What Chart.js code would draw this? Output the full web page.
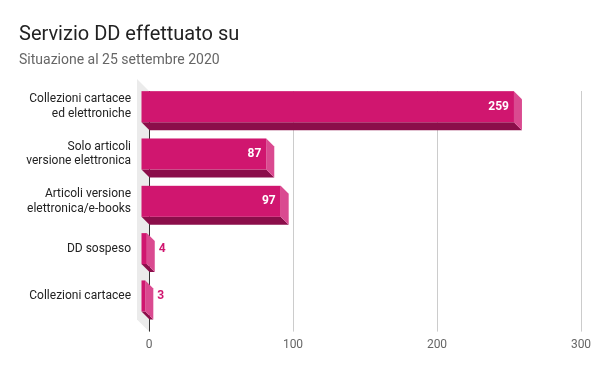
<!DOCTYPE html>
<html>
<head>
<meta charset="utf-8">
<script src="https://cdn.jsdelivr.net/npm/chart.js@4"></script>
<style>
  html, body { margin: 0; padding: 0; background: #fff; }
  #wrap { width: 600px; height: 371px; position: relative; }
</style>
</head>
<body>
<div id="wrap"><canvas id="c"></canvas></div>
<script>
const titleText = "Servizio DD effettuato su";
const subtitleText = "Situazione al 25 settembre 2020";
const categories = [
  ["Collezioni cartacee", "ed elettroniche"],
  ["Solo articoli", "versione elettronica"],
  ["Articoli versione", "elettronica/e-books"],
  "DD sospeso",
  "Collezioni cartacee"
];
const values = [259, 87, 97, 4, 3];
const xTicks = [0, 100, 200, 300];

const FRONT = "#d0166f";
const BOTTOM = "#8b0e4a";
const SIDE = "#da4a90";
const DEPTH = 8;

const bars3d = {
  id: "bars3d",
  beforeDraw(chart) {
    const { ctx, chartArea: a } = chart;
    ctx.save();
    ctx.fillStyle = "#ebebeb";
    ctx.beginPath();
    ctx.moveTo(a.left - 12, a.top - 12);
    ctx.lineTo(a.left, a.top);
    ctx.lineTo(a.left, a.bottom + 4);
    ctx.lineTo(a.left - 12, a.bottom - 8);
    ctx.closePath();
    ctx.fill();
    ctx.restore();
  },
  afterDatasetsDraw(chart) {
    const { ctx } = chart;
    const meta = chart.getDatasetMeta(0);
    ctx.save();
    meta.data.forEach((bar, i) => {
      const p = bar.getProps(["x", "y", "base", "height"], true);
      const x0 = p.base, x1 = p.x;
      const y0 = p.y - p.height / 2, y1 = p.y + p.height / 2;
      const d = DEPTH;
      ctx.fillStyle = BOTTOM;
      ctx.beginPath();
      ctx.moveTo(x0 - d, y1 - d);
      ctx.lineTo(x1 - d, y1 - d);
      ctx.lineTo(x1, y1);
      ctx.lineTo(x0, y1);
      ctx.closePath();
      ctx.fill();
      ctx.fillStyle = SIDE;
      ctx.beginPath();
      ctx.moveTo(x1 - d, y0 - d);
      ctx.lineTo(x1, y0);
      ctx.lineTo(x1, y1);
      ctx.lineTo(x1 - d, y1 - d);
      ctx.closePath();
      ctx.fill();
      ctx.fillStyle = FRONT;
      ctx.fillRect(x0 - d, y0 - d, x1 - x0, y1 - y0);

      const txt = String(values[i]);
      ctx.font = "bold 12px Roboto";
      const w = ctx.measureText(txt).width;
      ctx.textBaseline = "middle";
      const cy = p.y - d;
      if (x1 - x0 > w + 12) {
        ctx.fillStyle = "#ffffff";
        ctx.textAlign = "right";
        ctx.fillText(txt, x1 - d - 5, cy);
      } else {
        ctx.fillStyle = FRONT;
        ctx.textAlign = "left";
        ctx.fillText(txt, x1 + 4, cy);
      }
    });
    ctx.restore();
  }
};

new Chart(document.getElementById("c"), {
  type: "bar",
  data: {
    labels: categories,
    datasets: [{
      data: values,
      backgroundColor: "rgba(0,0,0,0)",
      borderWidth: 0,
      barThickness: 31
    }]
  },
  options: {
    indexAxis: "y",
    responsive: true,
    maintainAspectRatio: false,
    animation: false,
    devicePixelRatio: 1,
    layout: { padding: { left: 19, right: 19, top: 0, bottom: 13 } },
    plugins: {
      legend: { display: false },
      tooltip: { enabled: false },
      title: {
        display: true,
        text: titleText,
        align: "start",
        color: "#222222",
        font: { family: "Roboto", size: 20, weight: "normal" },
        padding: { top: 23, bottom: 2 }
      },
      subtitle: {
        display: true,
        text: subtitleText,
        align: "start",
        color: "#666666",
        font: { family: "Roboto", size: 14, weight: "normal" },
        padding: { top: 3, bottom: 22.2 }
      }
    },
    scales: {
      x: {
        min: 0,
        max: 300,
        afterBuildTicks(scale) { scale.ticks = xTicks.map(v => ({ value: v })); },
        grid: {
          color: ctx => (ctx.tick && ctx.tick.value === 0) ? "#333333" : "#cccccc",
          drawTicks: true,
          tickLength: 4
        },
        border: { display: false },
        ticks: {
          color: "#666666",
          font: { family: "Roboto", size: 12 },
          padding: 6
        }
      },
      y: {
        afterFit(scale) { scale.width = 130; },
        grid: { display: false, drawTicks: false },
        border: { display: true, color: "#333333", width: 1 },
        ticks: {
          color: "#222222",
          font: { family: "Roboto", size: 12 },
          padding: 18,
          labelOffset: -8
        }
      }
    }
  },
  plugins: [bars3d]
});
</script>
</body>
</html>
